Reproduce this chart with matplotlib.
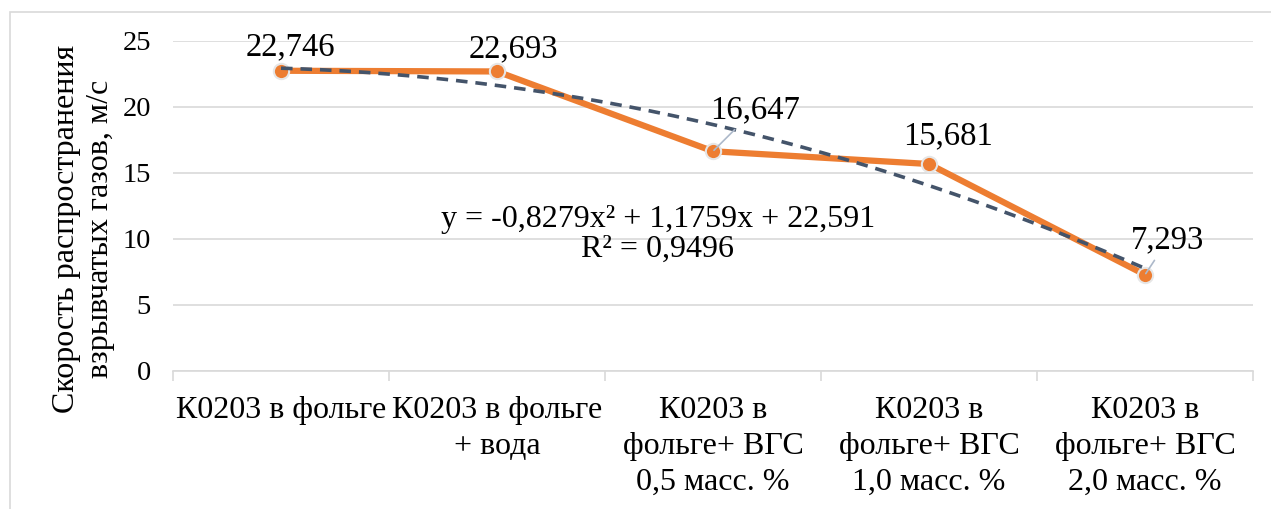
import numpy as np
import matplotlib.pyplot as plt
from matplotlib.patches import Rectangle

plt.rcParams['font.family'] = ['Liberation Serif', 'DejaVu Serif']

categories = ['К0203 в фольге',
              'К0203 в фольге\n+ вода',
              'К0203 в\nфольге+ ВГС\n0,5 масс. %',
              'К0203 в\nфольге+ ВГС\n1,0 масс. %',
              'К0203 в\nфольге+ ВГС\n2,0 масс. %']
speed = [22.746, 22.693, 16.647, 15.681, 7.293]
value_labels = ['22,746', '22,693', '16,647', '15,681', '7,293']
# label offsets in points (dx, dy) and whether a leader line is drawn
label_offsets = [(7, 17), (12, 16.5), (30, 30), (14, 20), (16.5, 25)]
leaders = [False, False, True, False, True]
trend_text = 'y = -0,8279x² + 1,1759x + 22,591\nR² = 0,9496'

orange = '#ED7D31'
slate = '#44546A'
grid_c = '#D9D9D9'

fig = plt.figure(figsize=(12.71, 5.09), dpi=100)
fig.patches.append(Rectangle((10 / 1271, -0.1), 1.1, 1 - 12 / 509 + 0.1,
                             transform=fig.transFigure, fill=False,
                             edgecolor='#D9D9D9', linewidth=1.2))
ax = fig.add_axes([173 / 1271, 1 - 371 / 509, 1080 / 1271, 330 / 509])

x = np.arange(1, len(speed) + 1)
coef = np.polyfit(x, speed, 2)
xs = np.linspace(1, len(speed), 200)

ax.plot(x, speed, color=orange, linewidth=4.5, marker='o', markersize=11,
        markerfacecolor=orange, markeredgecolor='#E6E6E6', markeredgewidth=1.5,
        zorder=3, solid_capstyle='round')
ax.plot(xs, np.polyval(coef, xs), color=slate, linewidth=2.6,
        linestyle=(0, (3.2, 2.2)), zorder=4)

for xi, yi, lab, (dx, dy), ld in zip(x, speed, value_labels, label_offsets, leaders):
    if ld:
        ax.annotate(lab, (xi, yi), xytext=(dx, dy), textcoords='offset points',
                    ha='center', va='center', fontsize=23.5,
                    arrowprops=dict(arrowstyle='-', color='#ADB9CA', lw=1.2,
                                    shrinkA=2, shrinkB=1), zorder=5)
    else:
        ax.annotate(lab, (xi, yi), xytext=(dx, dy), textcoords='offset points',
                    ha='center', va='center', fontsize=23.5, zorder=5)

ax.text(0.449, 0.414, trend_text, transform=ax.transAxes, ha='center', va='center',
        fontsize=23, linespacing=1.0, zorder=6)

ax.set_xlim(0.5, len(speed) + 0.5)
ax.set_ylim(0, 25)
ax.set_yticks([0, 5, 10, 15, 20, 25])
ax.set_xticks(x)
ax.set_xticklabels(categories, fontsize=23, linespacing=1.32)
ax.set_xticks(np.arange(0.5, len(speed) + 1), minor=True)
ax.tick_params(axis='x', which='major', length=0, pad=18)
ax.tick_params(axis='x', which='minor', length=7, color=grid_c, width=1.2)
ax.tick_params(axis='y', length=0, labelsize=20.5, pad=16)

ax.grid(axis='y', color=grid_c, linewidth=1.2)
ax.set_axisbelow(True)
for s in ['top', 'right', 'left']:
    ax.spines[s].set_visible(False)
ax.spines['bottom'].set_color(grid_c)
ax.spines['bottom'].set_linewidth(1.2)

ax.set_ylabel('Скорость распространения\nвзрывчатых газов, м/с', fontsize=23,
              linespacing=1.25, labelpad=5, y=0.43)

fig.savefig('out.png', dpi=100)
